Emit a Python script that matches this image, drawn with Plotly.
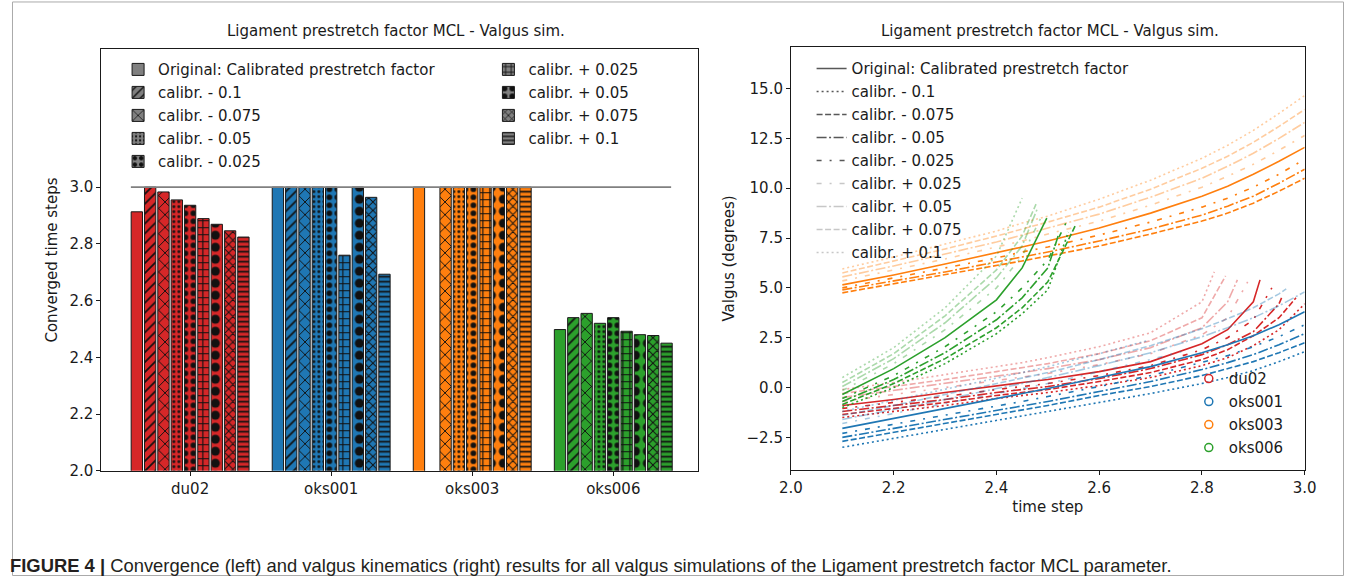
import plotly.graph_objects as go

# ---------------- data ----------------
CASES = ["du02", "oks001", "oks003", "oks006"]
CASE_COLORS = ["#d62728", "#1f77b4", "#ff7f0e", "#2ca02c"]
VARIANTS = ["Original: Calibrated prestretch factor", "calibr. - 0.1", "calibr. - 0.075",
            "calibr. - 0.05", "calibr. - 0.025", "calibr. + 0.025", "calibr. + 0.05",
            "calibr. + 0.075", "calibr. + 0.1"]

# converged time steps (left chart), per case, in VARIANTS order
CONV_DU02 = [2.913, 3.0, 2.983, 2.955, 2.936, 2.889, 2.869, 2.846, 2.824]
CONV_OKS001 = [3.0, 3.0, 3.0, 3.0, 3.0, 2.76, 3.0, 2.964, 2.693]
CONV_OKS003 = [3.0, None, 3.0, 3.0, 3.0, 3.0, 3.0, 3.0, 3.0]
CONV_OKS006 = [2.498, 2.54, 2.555, 2.52, 2.54, 2.492, 2.48, 2.477, 2.45]

MAX_STEP = 3.0
MAX_STEP_SPAN = [-0.42, 3.41]

# sampled time steps of the kinematics output (right chart)
TIME_GRID = [2.1, 2.2, 2.3, 2.4, 2.45, 2.5, 2.6, 2.7, 2.8, 2.85, 2.9, 2.95, 3.0]

# valgus (degrees) per variant, sampled on TIME_GRID up to the converged step
VALGUS_DU02 = [
    [-0.9, -0.6, -0.25, 0.1, 0.25, 0.4, 0.8, 1.3, 2.2, 2.9, 4.3, 5.4],
    [-1.5, -1.2, -0.9, -0.55, -0.4, -0.25, 0.1, 0.5, 1.1, 1.5, 2.1, 2.9, 4.2],
    [-1.35, -1.05, -0.75, -0.4, -0.25, -0.1, 0.3, 0.75, 1.4, 1.9, 2.6, 3.5, 4.5],
    [-1.2, -0.9, -0.6, -0.25, -0.1, 0.05, 0.45, 0.95, 1.65, 2.15, 2.8, 4.2, 4.5],
    [-1.05, -0.75, -0.45, -0.1, 0.05, 0.2, 0.6, 1.1, 1.9, 2.5, 3.4, 5.0],
    [-0.7, -0.35, 0.0, 0.35, 0.5, 0.7, 1.15, 1.7, 2.65, 3.5, 5.3],
    [-0.5, -0.15, 0.2, 0.55, 0.75, 0.95, 1.4, 2.0, 3.0, 4.3, 5.4],
    [-0.3, 0.05, 0.4, 0.8, 1.0, 1.2, 1.7, 2.35, 3.5, 5.6],
    [-0.1, 0.25, 0.65, 1.05, 1.25, 1.5, 2.05, 2.75, 4.3, 5.8],
]
VALGUS_OKS001 = [
    [-2.05, -1.55, -1.05, -0.55, -0.3, -0.05, 0.5, 1.05, 1.75, 2.15, 2.6, 3.15, 3.8],
    [-3.0, -2.55, -2.1, -1.65, -1.45, -1.2, -0.75, -0.3, 0.2, 0.5, 0.85, 1.3, 1.8],
    [-2.7, -2.25, -1.8, -1.35, -1.1, -0.9, -0.4, 0.05, 0.6, 0.95, 1.3, 1.75, 2.25],
    [-2.5, -2.05, -1.6, -1.15, -0.9, -0.7, -0.2, 0.3, 0.9, 1.25, 1.65, 2.15, 2.7],
    [-2.3, -1.85, -1.4, -0.95, -0.7, -0.45, 0.05, 0.6, 1.25, 1.6, 2.05, 2.55, 3.15],
    [-1.8, -1.3, -0.8, -0.3, -0.05, 0.2, 0.8, 1.4, 1.8],
    [-1.6, -1.1, -0.6, -0.05, 0.2, 0.5, 1.1, 1.75, 2.55, 3.0, 3.5, 4.1, 4.8],
    [-1.4, -0.9, -0.35, 0.2, 0.45, 0.75, 1.4, 2.1, 2.95, 3.45, 4.0, 4.7, 4.95],
    [-1.2, -0.65, -0.1, 0.45, 0.75, 1.05, 1.7, 2.35],
]
VALGUS_OKS003 = [
    [5.15, 5.65, 6.2, 6.75, 7.05, 7.35, 8.0, 8.75, 9.6, 10.1, 10.7, 11.35, 12.05],
    None,
    [4.75, 5.2, 5.65, 6.1, 6.35, 6.6, 7.1, 7.7, 8.35, 8.75, 9.25, 9.85, 10.5],
    [4.9, 5.35, 5.8, 6.3, 6.55, 6.8, 7.35, 7.95, 8.65, 9.1, 9.6, 10.25, 10.95],
    [5.0, 5.5, 6.0, 6.5, 6.8, 7.05, 7.65, 8.3, 9.05, 9.5, 10.05, 10.7, 11.45],
    [5.35, 5.9, 6.45, 7.05, 7.35, 7.7, 8.35, 9.15, 10.05, 10.6, 11.2, 11.9, 12.65],
    [5.55, 6.1, 6.7, 7.3, 7.65, 8.0, 8.7, 9.55, 10.5, 11.1, 11.75, 12.5, 13.3],
    [5.75, 6.35, 6.95, 7.6, 7.95, 8.3, 9.05, 9.95, 11.0, 11.6, 12.3, 13.1, 13.95],
    [5.95, 6.55, 7.2, 7.85, 8.25, 8.6, 9.45, 10.4, 11.5, 12.15, 12.9, 13.75, 14.65],
]
VALGUS_OKS006 = [
    [-0.35, 0.95, 2.5, 4.4, 6.0, 8.5],
    [-1.0, 0.0, 1.2, 2.7, 3.7, 4.9, 7.8],
    [-0.85, 0.2, 1.45, 3.0, 4.0, 5.3, 8.2],
    [-0.7, 0.4, 1.75, 3.4, 4.5, 6.0, 7.6],
    [-0.55, 0.6, 2.05, 3.8, 5.0, 6.4, 8.5],
    [-0.15, 1.2, 2.9, 5.0, 6.6, 8.8],
    [0.05, 1.45, 3.25, 5.5, 7.1, 9.0],
    [0.25, 1.7, 3.6, 5.9, 7.6, 9.2],
    [0.5, 2.0, 4.0, 6.6, 9.5],
]

CONV = [CONV_DU02, CONV_OKS001, CONV_OKS003, CONV_OKS006]
VALGUS = [VALGUS_DU02, VALGUS_OKS001, VALGUS_OKS003, VALGUS_OKS006]

TITLE = "Ligament prestretch factor MCL - Valgus sim."
CAPTION = ("<b>FIGURE 4 |</b> Convergence (left) and valgus kinematics (right) results for all "
           "valgus simulations of the Ligament prestretch factor MCL parameter.")

# ---------------- styles ----------------
FONT = "DejaVu Sans, sans-serif"
PATTERNS = ["", "/", "x", ".", ".", "+", ".", "x", "-"]
PAT_SIZE = [8, 7, 9, 5, 8, 7, 12, 6, 5]
PAT_SOLID = [0.3, 0.25, 0.2, 0.25, 0.4, 0.3, 0.45, 0.3, 0.35]
DASHES = ["solid", "2px,3px", "6px,2.5px", "10px,2.5px,2px,2.5px", "5px,8px,2px,8px",
          "5px,8px,2px,8px", "10px,2.5px,2px,2.5px", "6px,2.5px", "2px,3px"]
LIGHT = [False, False, False, False, False, True, True, True, True]

W, H = 1356, 585
def px_x(p):
    return p / W
def px_y(p):
    return 1 - p / H


def rgba(hexc, a):
    h = hexc.lstrip("#")
    return "rgba(%d,%d,%d,%g)" % (int(h[0:2], 16), int(h[2:4], 16), int(h[4:6], 16), a)


fig = go.Figure()

# ---------------- left: bars ----------------
for vi, vname in enumerate(VARIANTS):
    shape = PATTERNS[vi]
    if shape:
        marker = dict(color="#000000", line=dict(color="#1a1a1a", width=1),
                      pattern=dict(shape=shape, fgcolor="#111111", bgcolor=CASE_COLORS,
                                   size=PAT_SIZE[vi], solidity=PAT_SOLID[vi],
                                   fillmode="replace"))
    else:
        marker = dict(color=CASE_COLORS, line=dict(color="#1a1a1a", width=1))
    fig.add_trace(go.Bar(
        x=list(range(len(CASES))),
        y=[CONV[ci][vi] for ci in range(len(CASES))],
        marker=marker, showlegend=False, xaxis="x", yaxis="y", name=vname,
    ))
    # legend swatch (grey)
    fig.add_trace(go.Bar(
        x=[None], y=[None], name=vname,
        marker=dict(color="#808080", line=dict(color="#1a1a1a", width=1),
                    pattern=dict(shape=shape, fgcolor="#111111", bgcolor="#808080",
                                 size=PAT_SIZE[vi], solidity=PAT_SOLID[vi],
                                 fillmode="replace")),
        xaxis="x3", yaxis="y3", legend="legend" if vi < 5 else "legend2",
        legendgroup="b%d" % vi, showlegend=True,
    ))

fig.add_shape(type="line", xref="x", yref="y", x0=MAX_STEP_SPAN[0], x1=MAX_STEP_SPAN[1],
              y0=MAX_STEP, y1=MAX_STEP, line=dict(color="#808080", width=1.8), layer="above")

# ---------------- right: lines ----------------
def times_for(end):
    return [t for t in TIME_GRID if t < end - 0.004] + [end]

for ci, case in enumerate(CASES):
    for vi in range(len(VARIANTS)):
        end = CONV[ci][vi]
        vals = VALGUS[ci][vi]
        if end is None or vals is None:
            continue
        xs = times_for(end)
        if len(xs) != len(vals):
            raise ValueError("length mismatch %s %d: %d vs %d" % (case, vi, len(xs), len(vals)))
        col = rgba(CASE_COLORS[ci], 0.4 if LIGHT[vi] else 1.0)
        fig.add_trace(go.Scatter(
            x=xs, y=vals, mode="lines",
            line=dict(color=col, width=1.6, dash=DASHES[vi]),
            showlegend=False, xaxis="x2", yaxis="y2", hoverinfo="skip",
        ))

for vi, vname in enumerate(VARIANTS):
    fig.add_trace(go.Scatter(
        x=[None], y=[None], mode="lines", name=vname,
        line=dict(color="rgba(70,70,70,0.3)" if LIGHT[vi] else "rgba(70,70,70,0.9)",
                  width=1.6, dash=DASHES[vi]),
        xaxis="x2", yaxis="y2", legend="legend3", legendgroup="l%d" % vi,
    ))

for ci, case in enumerate(CASES):
    fig.add_trace(go.Scatter(
        x=[None], y=[None], mode="markers", name=case,
        marker=dict(symbol="circle-open", size=8, color=CASE_COLORS[ci],
                    line=dict(width=1.5, color=CASE_COLORS[ci])),
        xaxis="x2", yaxis="y2", legend="legend4", legendgroup="c%d" % ci,
    ))

# ---------------- layout ----------------
axis_common = dict(showline=True, mirror=True, linecolor="#1a1a1a", linewidth=1,
                   ticks="outside", ticklen=4, tickcolor="#1a1a1a", showgrid=False,
                   zeroline=False, tickfont=dict(size=15, color="#1a1a1a", family=FONT))

leg_common = dict(xanchor="left", yanchor="top", bgcolor="rgba(0,0,0,0)",
                  tracegroupgap=0.5, font=dict(size=15, family=FONT, color="#1a1a1a"))

fig.update_layout(
    width=W, height=H, autosize=False, margin=dict(l=0, r=0, t=0, b=0),
    paper_bgcolor="white", plot_bgcolor="rgba(0,0,0,0)",
    font=dict(family=FONT, size=15, color="#1a1a1a"),
    barmode="group", bargap=0.15, bargroupgap=0.15,
    xaxis=dict(domain=[px_x(91), px_x(698)], range=[-0.629, 3.598], anchor="y",
               tickvals=list(range(len(CASES))), ticktext=CASES, **axis_common),
    yaxis=dict(domain=[px_y(478.2), px_y(50)], range=[2.0, 3.486], anchor="x",
               tickvals=[2.0, 2.2, 2.4, 2.6, 2.8, 3.0], tickformat=".1f",
               title=dict(text="Converged time steps", standoff=8,
                          font=dict(size=15, family=FONT)), **axis_common),
    xaxis2=dict(domain=[px_x(793), px_x(1316)], range=[2.0, 3.0], anchor="y2",
                tickvals=[2.0, 2.2, 2.4, 2.6, 2.8, 3.0], tickformat=".1f",
                title=dict(text="time step", standoff=5, font=dict(size=15, family=FONT)),
                **axis_common),
    yaxis2=dict(domain=[px_y(477), px_y(48)], range=[-4.12, 17.07], anchor="x2",
                tickvals=[-2.5, 0, 2.5, 5, 7.5, 10, 12.5, 15], tickformat=".1f",
                title=dict(text="Valgus (degrees)", standoff=8,
                           font=dict(size=15, family=FONT)), **axis_common),
    xaxis3=dict(domain=[px_x(91), px_x(698)], visible=False, anchor="y3", range=[0, 1]),
    yaxis3=dict(domain=[px_y(478.2), px_y(50)], visible=False, anchor="x3", range=[0, 1]),
    legend=dict(x=px_x(108), y=px_y(54), **leg_common),
    legend2=dict(x=px_x(485), y=px_y(54), **leg_common),
    legend3=dict(x=px_x(814), y=px_y(53), **leg_common),
    legend4=dict(x=px_x(1198), y=px_y(368), **leg_common),
    showlegend=True,
)

fig.add_annotation(text=TITLE, xref="paper", yref="paper", x=px_x(391), y=px_y(31),
                   xanchor="center", yanchor="middle", showarrow=False,
                   font=dict(size=15, family=FONT, color="#1a1a1a"))
fig.add_annotation(text=TITLE, xref="paper", yref="paper", x=px_x(1057), y=px_y(31),
                   xanchor="center", yanchor="middle", showarrow=False,
                   font=dict(size=15, family=FONT, color="#1a1a1a"))
fig.add_annotation(text=CAPTION, xref="paper", yref="paper", x=px_x(-4), y=px_y(574),
                   xanchor="left", yanchor="middle", showarrow=False,
                   font=dict(size=18.4, family="Liberation Sans, Arial, sans-serif",
                             color="#231f20"))

fig.add_shape(type="rect", xref="paper", yref="paper", x0=px_x(0.5), x1=px_x(1355.5),
              y0=px_y(584.5), y1=px_y(2), line=dict(color="#aaaaaa", width=1), layer="below")

fig.write_html(
    "out.html",
    config={"displayModeBar": False, "responsive": False},
    post_script=("document.documentElement.style.overflow='hidden';"
                 "document.body.style.overflow='hidden';"
                 "document.body.style.margin='0px';"),
)
